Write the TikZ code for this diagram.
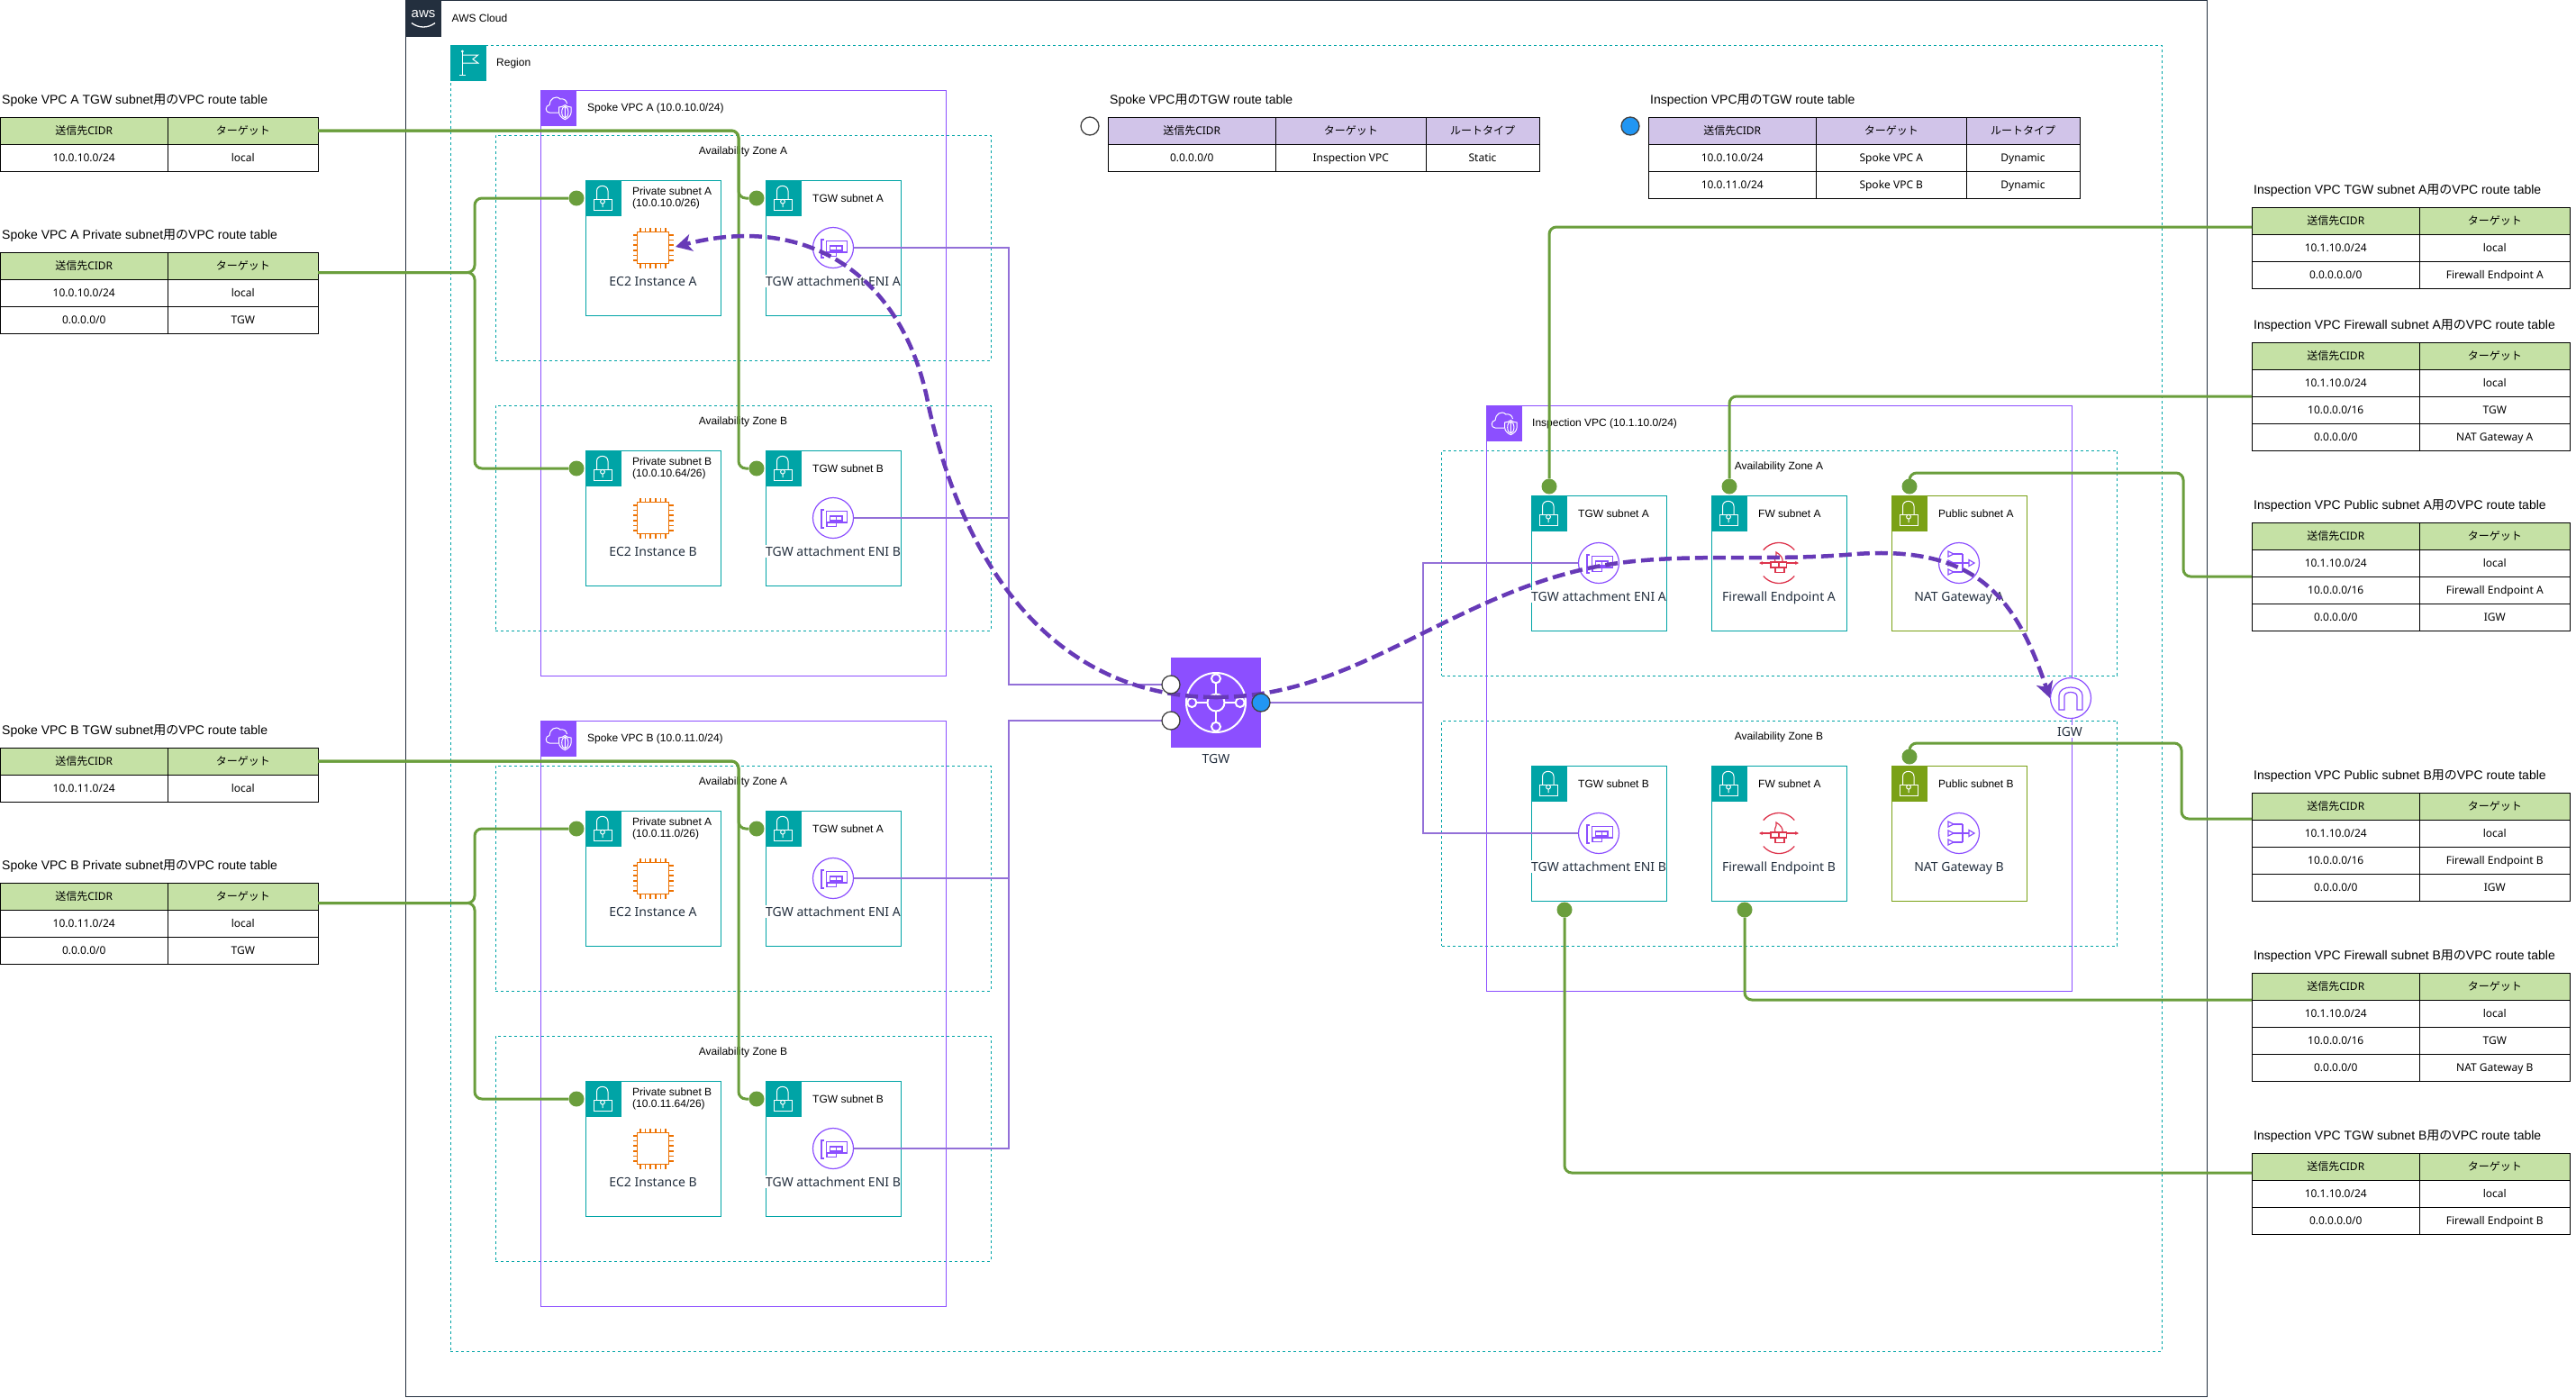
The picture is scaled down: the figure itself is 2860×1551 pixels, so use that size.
\documentclass[tikz,border=0pt]{standalone}
\usepackage{fontspec}
\setmainfont{Liberation Sans}
\newfontfamily\noto{Noto Sans}
\newfontfamily\cjk{Noto Sans CJK JP}
\usetikzlibrary{shapes,arrows.meta}

\definecolor{awsdark}{HTML}{232F3E}
\definecolor{awsteal}{HTML}{00A4A6}
\definecolor{awsolive}{HTML}{7AA116}
\definecolor{awspurple}{HTML}{8C4FFF}
\definecolor{awsorange}{HTML}{ED7100}
\definecolor{awsred}{HTML}{DD344C}
\definecolor{routegreen}{HTML}{6A9E3C}
\definecolor{linkpurple}{HTML}{9370D8}
\definecolor{flowpurple}{HTML}{673AB7}
\definecolor{headgreen}{HTML}{C5E1A5}
\definecolor{headpurple}{HTML}{D1C4E9}
\definecolor{portblue}{HTML}{2196F3}

\newcommand{\labeltext}{\fontsize{12}{13}\selectfont}
\newcommand{\celltext}{\noto\fontsize{12}{14}\selectfont}
\newcommand{\icontext}{\noto\fontsize{14}{16}\selectfont}
\newcommand{\titletext}{\fontsize{14}{16}\selectfont}

\tikzstyle{group} = [draw, inner sep=0pt, outer sep=0pt, anchor=north west, line width=1pt]
\tikzstyle{azbox} = [group, draw=awsteal, dashed, dash pattern=on 3pt off 3pt]
\tikzstyle{vpcbox} = [group, draw=awspurple]
\tikzstyle{grouphead} = [inner sep=0pt, outer sep=0pt, anchor=north west, minimum width=40pt, minimum height=40pt]
\tikzstyle{grouplabel} = [anchor=west, inner sep=0pt, font=\labeltext]
\tikzstyle{subnet} = [group, anchor=center, minimum width=150pt, minimum height=150pt]
\tikzstyle{sublabel} = [anchor=west, inner sep=0pt, align=left, font=\labeltext]
\tikzstyle{roundicon} = [circle, inner sep=0pt, minimum size=45pt, fill=white, draw=awspurple, line width=1.2pt]
\tikzstyle{fwicon} = [circle, inner sep=0pt, minimum size=45pt]
\tikzstyle{chipicon} = [rectangle, inner sep=0pt, minimum size=35pt, fill=white, draw=awsorange, line width=1.5pt]
\tikzstyle{iconlabel} = [inner sep=0pt, fill=white, text=awsdark, text height=12pt, text depth=2pt, font=\icontext]
\tikzstyle{dot} = [circle, inner sep=0pt, minimum size=17pt, fill=routegreen]
\tikzstyle{port} = [circle, inner sep=0pt, minimum size=20pt, draw=black!75, line width=1.3pt, fill=white]
\tikzstyle{route} = [draw=routegreen, line width=3pt, rounded corners=8pt]
\tikzstyle{link} = [draw=linkpurple, line width=2pt]
\tikzstyle{flow} = [draw=flowpurple, line width=4.5pt, dash pattern=on 14pt off 6pt, -{Stealth[length=18pt,width=19pt,inset=5pt]}]
\tikzstyle{cell} = [draw=black, line width=1pt, inner sep=0pt, outer sep=0pt, anchor=north west, minimum height=30pt, text height=10pt, text depth=2pt, font=\celltext]
\tikzstyle{cola} = [cell, minimum width=186.5pt]
\tikzstyle{colb} = [cell, minimum width=166.5pt]
\tikzstyle{colc} = [cell, minimum width=126pt]
\tikzstyle{tabletitle} = [anchor=west, inner sep=0pt, font=\titletext]

\tikzset{
	lockicon/.pic={
		\draw [white, line width=1pt] (-11,1) rectangle (9,13);
		\draw [white, line width=1pt] (-7.5,1) -- (-7.5,-8) .. controls (-7.5,-15.5) and (5,-15.5) .. (5,-8) -- (5,1);
		\draw [white, line width=1pt] (-1,3.7) circle (2.4) (-1,6.1) -- (-1,10);
	},
	flagicon/.pic={
		\draw [white, line width=1pt] (-6.7,-13) -- (-6.7,13) (-9.7,13) -- (-3,13);
		\draw [white, fill=white] (-6.7,-13) circle (1.2);
		\draw [white, line width=1pt] (-6.7,-9) -- (10.7,-9) -- (5,-4.3) -- (10.7,0) -- (-6.7,0);
	},
	vpcicon/.pic={
		\draw [white, line width=1pt] (0,5) -- (-10,5) .. controls (-15,5) and (-15,-3) .. (-10,-3.5) .. controls (-10,-10) and (-3,-15) .. (2,-10) .. controls (5,-11) and (9,-9) .. (9.5,-5);
		\draw [white, line width=1pt] (0.7,-1) .. controls (3,-1) and (5.5,-2) .. (7.3,-3.5) .. controls (9,-2) and (11.5,-1) .. (14,-1) -- (14,5) .. controls (14,8) and (11,11) .. (7.3,12.7) .. controls (3.5,11) and (0.7,8) .. (0.7,5) -- cycle;
		\draw [white, line width=1pt] (7.3,4.5) ellipse (3.6 and 6.5) (7.3,-2) -- (7.3,11);
	},
	awsicon/.pic={
		\draw [white, line width=1.3pt] (-13,5) .. controls (-5,11) and (5,11) .. (13,5);
	},
	tgwicon/.pic={
		\draw [white, line width=2pt] (0,0) circle (33);
		\foreach \a in {0,90,180,270} {
			\draw [white, line width=2pt] (\a:9.5) -- (\a:21.7);
			\draw [white, line width=2pt] (\a:26.7) circle (5);
		}
		\draw [white, line width=2pt] (0,0) circle (9.5);
	},
	chippins/.pic={
		\foreach \p in {-14,-8.4,-2.8,2.8,8.4,14} {
			\draw [awsorange, line width=1.5pt] (\p,-17.5) -- (\p,-22.5) (\p,17.5) -- (\p,22.5) (-17.5,\p) -- (-22.5,\p) (17.5,\p) -- (22.5,\p);
		}
	},
	enicard/.pic={
		\draw [awspurple, line width=1.2pt] (-10,-9) -- (-13,-9) -- (-13,11) -- (-10,11);
		\draw [awspurple, line width=1.2pt] (-7.5,-7.5) -- (15.5,-7.5) -- (15.5,5) -- (-7.5,5) -- cycle;
		\draw [awspurple, line width=1.2pt] (-3.5,-2) rectangle (10,3);
		\draw [awspurple, line width=1.2pt] (3.2,-2) -- (3.2,3);
		\draw [awspurple, line width=1.2pt] (-7,5) -- (-7,9.5) -- (3.3,9.5) -- (3.3,5);
	},
	fwicon/.pic={
		\draw [awsred, line width=1.3pt] (40:22.5) arc (40:140:22.5);
		\draw [awsred, line width=1.3pt] (-40:22.5) arc (-40:-140:22.5);
		\draw [awsred, line width=1.2pt, -{Stealth[length=4pt,width=4pt]}] (-4,0) -- (-22,0);
		\draw [awsred, line width=1.2pt, -{Stealth[length=4pt,width=4pt]}] (4,0) -- (22,0);
		\draw [awsred, line width=1.2pt, fill=white] (-9,-1) rectangle (8.5,5);
		\draw [awsred, line width=1.2pt] (0,-1) -- (0,5);
		\draw [awsred, line width=1.2pt] (-4,5) rectangle (6,10.5);
		\draw [awsred, line width=1.2pt] (-4,-1) .. controls (-6,-6) and (-2,-6) .. (-3,-12) .. controls (2,-9) and (5,-5) .. (4,-1);
	},
	naticon/.pic={
		\foreach \y in {-10,0,10} {
			\draw [awspurple, line width=1.2pt] (-12,\y-3) -- (-6,\y) -- (-12,\y+3) -- cycle;
			\draw [awspurple, line width=1.2pt] (-6,\y) -- (4,\y);
		}
		\draw [awspurple, line width=1.2pt] (4,-10) -- (4,10) (4,0) -- (11,0);
		\draw [awspurple, line width=1.2pt] (11,-3.5) -- (17,0) -- (11,3.5) -- cycle;
	},
	igwicon/.pic={
		\draw [awspurple, line width=1.2pt] (-13,13) -- (-13,-3) .. controls (-13,-15) and (13,-15) .. (13,-3) -- (13,13) -- (7,13) -- (7,-2) .. controls (7,-8) and (-7,-8) .. (-7,-2) -- (-7,13) -- cycle;
	},
}

% subnet box with its lock header and title
\newcommand{\subnetbox}[4]{
	\node [subnet,draw=#3,#2] (#1) {};
	\node [grouphead,fill=#3] (#1h) at (#1.north west) {};
	\pic at (#1h.center) {lockicon};
	\node [sublabel] (#1t) at ([shift={(52,20)}]#1.north west) {#4};
}
% service icon in the middle of a subnet
\newcommand{\subneticon}[5]{
	\node [#3] (#1) at (#2.center) {};
	\pic at (#1.center) {#4};
	\node [iconlabel] (#1t) at ([yshift=-37pt]#2.center) {#5};
}
% route table title and header row
\newcommand{\tablehead}[5]{
	\node [tabletitle] (#1t) at (#2+2,#3-18.5) {#4};
	\node [cola,fill=#5] (#1a) at (#2,#3) {{\cjk 送信先}CIDR};
	\node [colb,fill=#5] (#1b) at (#1a.north east) {{\cjk ターゲット}};
}
\newcommand{\tablerow}[4]{
	\node [cola] (#1a) at (#2a.south west) {#3};
	\node [colb] (#1b) at (#2b.south west) {#4};
}

\begin{document}
\begin{tikzpicture}[x=1pt,y=-1pt,node distance=200pt]
	\useasboundingbox (0,0) rectangle (2860,1551);

	% outer groups
	\node [group,draw=awsdark,minimum width=2000pt,minimum height=1549.5pt] (cloud) at (450,0.5) {};
	\node [grouphead,fill=awsdark] (cloudh) at (cloud.north west) {};
	\node [inner sep=0pt,text=white,font=\fontsize{15}{16}\selectfont] (awslogo) at (470,15.5) {aws};
	\pic at (cloudh.center) {awsicon};
	\node [grouplabel] (cloudt) at (501.5,20) {AWS Cloud};
	\node [azbox,minimum width=1900pt,minimum height=1450pt] (region) at (500,50) {};
	\node [grouphead,fill=awsteal] (regionh) at (region.north west) {};
	\pic at (regionh.center) {flagicon};
	\node [grouplabel] (regiont) at (551,70) {Region};

	% spoke VPC A
	\node [azbox,minimum width=550pt,minimum height=250pt] (azAA) at (550,150) {};
	\node [azbox,minimum width=550pt,minimum height=250pt] (azAB) at (550,450) {};
	\node [vpcbox,minimum width=450pt,minimum height=650pt] (vpcA) at (600,100) {};
	\node [grouphead,fill=awspurple] (vpcAh) at (vpcA.north west) {};
	\pic at (vpcAh.center) {vpcicon};
	\node [grouplabel] (vpcAt) at (652,120) {Spoke VPC A (10.0.10.0/24)};
	\node [inner sep=0pt,font=\labeltext] (azAAt) at (825,168) {Availability Zone A};
	\node [inner sep=0pt,font=\labeltext] (azABt) at (825,468) {Availability Zone B};
	\subnetbox{prAA}{at={(725,275)}}{awsteal}{Private subnet A\\(10.0.10.0/26)}
	\subnetbox{tsAA}{right of=prAA}{awsteal}{TGW subnet A}
	\subnetbox{prAB}{below of=prAA,node distance=300pt}{awsteal}{Private subnet B\\(10.0.10.64/26)}
	\subnetbox{tsAB}{right of=prAB}{awsteal}{TGW subnet B}
	\subneticon{ecAA}{prAA}{chipicon}{chippins}{EC2 Instance A}
	\subneticon{ecAB}{prAB}{chipicon}{chippins}{EC2 Instance B}
	\subneticon{enAA}{tsAA}{roundicon}{enicard}{TGW attachment ENI A}
	\subneticon{enAB}{tsAB}{roundicon}{enicard}{TGW attachment ENI B}

	% spoke VPC B
	\node [azbox,minimum width=550pt,minimum height=250pt] (azBA) at (550,850) {};
	\node [azbox,minimum width=550pt,minimum height=250pt] (azBB) at (550,1150) {};
	\node [vpcbox,minimum width=450pt,minimum height=650pt] (vpcB) at (600,800) {};
	\node [grouphead,fill=awspurple] (vpcBh) at (vpcB.north west) {};
	\pic at (vpcBh.center) {vpcicon};
	\node [grouplabel] (vpcBt) at (652,820) {Spoke VPC B (10.0.11.0/24)};
	\node [inner sep=0pt,font=\labeltext] (azBAt) at (825,868) {Availability Zone A};
	\node [inner sep=0pt,font=\labeltext] (azBBt) at (825,1168) {Availability Zone B};
	\subnetbox{prBA}{at={(725,975)}}{awsteal}{Private subnet A\\(10.0.11.0/26)}
	\subnetbox{tsBA}{right of=prBA}{awsteal}{TGW subnet A}
	\subnetbox{prBB}{below of=prBA,node distance=300pt}{awsteal}{Private subnet B\\(10.0.11.64/26)}
	\subnetbox{tsBB}{right of=prBB}{awsteal}{TGW subnet B}
	\subneticon{ecBA}{prBA}{chipicon}{chippins}{EC2 Instance A}
	\subneticon{ecBB}{prBB}{chipicon}{chippins}{EC2 Instance B}
	\subneticon{enBA}{tsBA}{roundicon}{enicard}{TGW attachment ENI A}
	\subneticon{enBB}{tsBB}{roundicon}{enicard}{TGW attachment ENI B}

	% inspection VPC
	\node [azbox,minimum width=750pt,minimum height=250pt] (azIA) at (1600.5,500) {};
	\node [azbox,minimum width=750pt,minimum height=250pt] (azIB) at (1600.5,800) {};
	\node [vpcbox,minimum width=650pt,minimum height=650pt] (vpcI) at (1650,450) {};
	\node [grouphead,fill=awspurple] (vpcIh) at (vpcI.north west) {};
	\pic at (vpcIh.center) {vpcicon};
	\node [grouplabel] (vpcIt) at (1701,470) {Inspection VPC (10.1.10.0/24)};
	\node [inner sep=0pt,font=\labeltext] (azIAt) at (1975,518) {Availability Zone A};
	\node [inner sep=0pt,font=\labeltext] (azIBt) at (1975,818) {Availability Zone B};
	\subnetbox{tsIA}{at={(1775,625)}}{awsteal}{TGW subnet A}
	\subnetbox{fwIA}{right of=tsIA}{awsteal}{FW subnet A}
	\subnetbox{pbIA}{right of=fwIA}{awsolive}{Public subnet A}
	\subnetbox{tsIB}{below of=tsIA,node distance=300pt}{awsteal}{TGW subnet B}
	\subnetbox{fwIB}{right of=tsIB}{awsteal}{FW subnet A}
	\subnetbox{pbIB}{right of=fwIB}{awsolive}{Public subnet B}
	\subneticon{enIA}{tsIA}{roundicon}{enicard}{TGW attachment ENI A}
	\subneticon{fpIA}{fwIA}{fwicon}{fwicon}{Firewall Endpoint A}
	\subneticon{ntIA}{pbIA}{roundicon}{naticon}{NAT Gateway A}
	\subneticon{enIB}{tsIB}{roundicon}{enicard}{TGW attachment ENI B}
	\subneticon{fpIB}{fwIB}{fwicon}{fwicon}{Firewall Endpoint B}
	\subneticon{ntIB}{pbIB}{roundicon}{naticon}{NAT Gateway B}

	% internet gateway and transit gateway
	\node [roundicon] (igw) at (2299,775) {};
	\pic at (igw.center) {igwicon};
	\node [iconlabel] (igwt) at (2298,812) {IGW};
	\node [inner sep=0pt,outer sep=0pt,minimum size=100pt,fill=awspurple] (tgw) at (1350,780) {};
	\pic at (tgw.center) {tgwicon};
	\node [inner sep=0pt,text=awsdark,font=\icontext] (tgwt) at (1350,842) {TGW};

	% route tables on the left
	\tablehead{sAt}{0}{130}{Spoke VPC A TGW subnet{\cjk 用の}VPC route table}{headgreen}
	\tablerow{sAt1}{sAt}{10.0.10.0/24}{local}
	\tablehead{sAp}{0}{280}{Spoke VPC A Private subnet{\cjk 用の}VPC route table}{headgreen}
	\tablerow{sAp1}{sAp}{10.0.10.0/24}{local}
	\tablerow{sAp2}{sAp1}{0.0.0.0/0}{TGW}
	\tablehead{sBt}{0}{830}{Spoke VPC B TGW subnet{\cjk 用の}VPC route table}{headgreen}
	\tablerow{sBt1}{sBt}{10.0.11.0/24}{local}
	\tablehead{sBp}{0}{980}{Spoke VPC B Private subnet{\cjk 用の}VPC route table}{headgreen}
	\tablerow{sBp1}{sBp}{10.0.11.0/24}{local}
	\tablerow{sBp2}{sBp1}{0.0.0.0/0}{TGW}

	% TGW route tables
	\tablehead{rS}{1230}{130}{Spoke VPC{\cjk 用の}TGW route table}{headpurple}
	\node [colc,fill=headpurple] (rSc) at (rSb.north east) {{\cjk ルートタイプ}};
	\tablerow{rS1}{rS}{0.0.0.0/0}{Inspection VPC}
	\node [colc] (rS1c) at (rSc.south west) {Static};
	\tablehead{rI}{1830}{130}{Inspection VPC{\cjk 用の}TGW route table}{headpurple}
	\node [colc,fill=headpurple] (rIc) at (rIb.north east) {{\cjk ルートタイプ}};
	\tablerow{rI1}{rI}{10.0.10.0/24}{Spoke VPC A}
	\node [colc] (rI1c) at (rIc.south west) {Dynamic};
	\tablerow{rI2}{rI1}{10.0.11.0/24}{Spoke VPC B}
	\node [colc] (rI2c) at (rI1c.south west) {Dynamic};
	\node [port] (keyS) at (1210,140) {};
	\node [port,fill=portblue] (keyI) at (1810,140) {};

	% route tables on the right
	\tablehead{iTa}{2500}{230}{Inspection VPC TGW subnet A{\cjk 用の}VPC route table}{headgreen}
	\tablerow{iTa1}{iTa}{10.1.10.0/24}{local}
	\tablerow{iTa2}{iTa1}{0.0.0.0.0/0}{Firewall Endpoint A}
	\tablehead{iFa}{2500}{380}{Inspection VPC Firewall subnet A{\cjk 用の}VPC route table}{headgreen}
	\tablerow{iFa1}{iFa}{10.1.10.0/24}{local}
	\tablerow{iFa2}{iFa1}{10.0.0.0/16}{TGW}
	\tablerow{iFa3}{iFa2}{0.0.0.0/0}{NAT Gateway A}
	\tablehead{iPa}{2500}{580}{Inspection VPC Public subnet A{\cjk 用の}VPC route table}{headgreen}
	\tablerow{iPa1}{iPa}{10.1.10.0/24}{local}
	\tablerow{iPa2}{iPa1}{10.0.0.0/16}{Firewall Endpoint A}
	\tablerow{iPa3}{iPa2}{0.0.0.0/0}{IGW}
	\tablehead{iPb}{2500}{880}{Inspection VPC Public subnet B{\cjk 用の}VPC route table}{headgreen}
	\tablerow{iPb1}{iPb}{10.1.10.0/24}{local}
	\tablerow{iPb2}{iPb1}{10.0.0.0/16}{Firewall Endpoint B}
	\tablerow{iPb3}{iPb2}{0.0.0.0/0}{IGW}
	\tablehead{iFb}{2500}{1080}{Inspection VPC Firewall subnet B{\cjk 用の}VPC route table}{headgreen}
	\tablerow{iFb1}{iFb}{10.1.10.0/24}{local}
	\tablerow{iFb2}{iFb1}{10.0.0.0/16}{TGW}
	\tablerow{iFb3}{iFb2}{0.0.0.0/0}{NAT Gateway B}
	\tablehead{iTb}{2500}{1280}{Inspection VPC TGW subnet B{\cjk 用の}VPC route table}{headgreen}
	\tablerow{iTb1}{iTb}{10.1.10.0/24}{local}
	\tablerow{iTb2}{iTb1}{0.0.0.0.0/0}{Firewall Endpoint B}

	% attachments to the TGW
	\coordinate (busA) at (1120,760);
	\coordinate (busB) at (1120,800);
	\coordinate (busI) at (1580,780);
	\draw [link] (enAA) -| (busA) -- (tgw.west |- busA);
	\draw [link] (enAB) -| (busA);
	\draw [link] (enBA) -| (busB) -- (tgw.west |- busB);
	\draw [link] (enBB) -| (busB);
	\draw [link] (tgw.east |- busI) -- (busI);
	\draw [link] (busI) |- (enIA);
	\draw [link] (busI) |- (enIB);

	% green dots at the subnets
	\node [dot] (dAA) at (640,220) {};
	\node [dot] (dAB) at (640,520) {};
	\node [dot] (dAC) at (840,220) {};
	\node [dot] (dAD) at (840,520) {};
	\node [dot] (dBA) at (640,920) {};
	\node [dot] (dBB) at (640,1220) {};
	\node [dot] (dBC) at (840,920) {};
	\node [dot] (dBD) at (840,1220) {};
	\node [dot] (dIA) at (1720,540) {};
	\node [dot] (dIB) at (1920,540) {};
	\node [dot] (dIC) at (2120,540) {};
	\node [dot] (dID) at (2120,840) {};
	\node [dot] (dIE) at (1737,1010) {};
	\node [dot] (dIF) at (1937,1010) {};

	% table to subnet routes
	\coordinate (sAtbus) at (820,145);
	\draw [route] (sAtb.east) -- (sAtbus) |- (dAC);
	\draw [route] (sAtb.east) -- (sAtbus) |- (dAD);
	\coordinate (sApout) at (353,302.5);
	\coordinate (sApbus) at (527,302.5);
	\draw [route] (sApout) -- (sApbus) |- (dAA);
	\draw [route] (sApout) -- (sApbus) |- (dAB);
	\coordinate (sBtbus) at (820,845);
	\draw [route] (sBtb.east) -- (sBtbus) |- (dBC);
	\draw [route] (sBtb.east) -- (sBtbus) |- (dBD);
	\coordinate (sBpout) at (353,1002.5);
	\coordinate (sBpbus) at (527,1002.5);
	\draw [route] (sBpout) -- (sBpbus) |- (dBA);
	\draw [route] (sBpout) -- (sBpbus) |- (dBB);

	\coordinate (iTaout) at (2500,252);
	\coordinate (iFaout) at (2500,440);
	\coordinate (iPaout) at (2500,640);
	\coordinate (iPbout) at (2500,909);
	\coordinate (iFbout) at (2500,1110);
	\coordinate (iTbout) at (2500,1302);
	\coordinate (iPajog) at (2424,525);
	\coordinate (iPbjog) at (2422,825);
	\draw [route] (iTaout) -| (dIA);
	\draw [route] (iFaout) -| (dIB);
	\draw [route] (iPaout) -| (iPajog) -| (dIC);
	\draw [route] (iPbout) -| (iPbjog) -| (dID);
	\draw [route] (iFbout) -| (dIF);
	\draw [route] (iTbout) -| (dIE);

	% traffic flows through the TGW
	\coordinate (flowT) at (1350,774);
	\coordinate (flowA) at (1031,451);
	\coordinate (flowB) at (1754,633);
	\coordinate (flowC) at (2061,615);
	\coordinate (flowE) at (750,274);
	\draw [flow] (flowT) .. controls (1185,774) and (1075,650) .. (flowA) .. controls (1005,310) and (900,235) .. (flowE);
	\draw [flow] (flowT) .. controls (1500,774) and (1600,670) .. (flowB) .. controls (1850,610) and (1950,625) .. (flowC) .. controls (2200,605) and (2240,670) .. (igw.west);

	% route table ports on the TGW
	\node [port] (ptA) at (1300,760) {};
	\node [port] (ptB) at (1300,800) {};
	\node [port,fill=portblue] (ptI) at (1400,780) {};
\end{tikzpicture}
\end{document}
